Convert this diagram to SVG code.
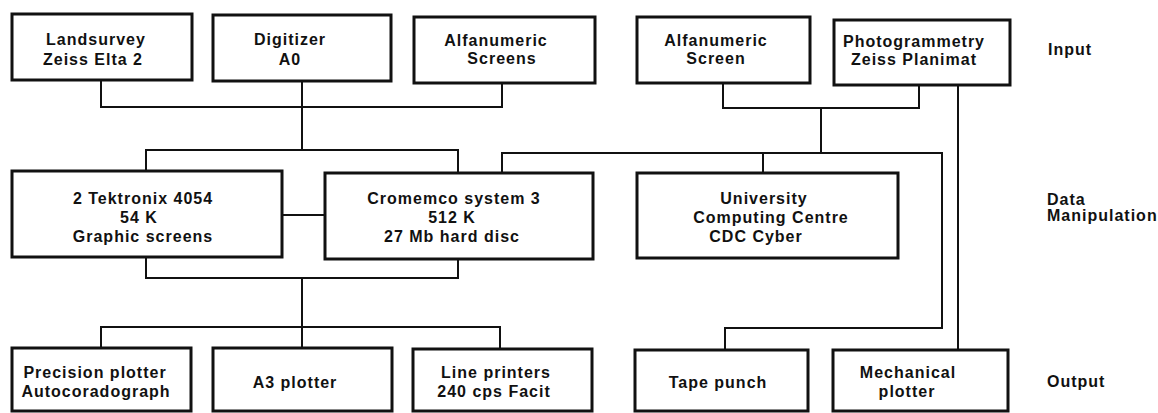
<svg xmlns="http://www.w3.org/2000/svg" width="1158" height="413" viewBox="0 0 1158 413">
<style>
.box{fill:#fff;stroke:#111;stroke-width:3}
.ln{fill:none;stroke:#111;stroke-width:2}
text{font-family:"Liberation Sans",Arial,sans-serif;font-weight:bold;font-size:16px;letter-spacing:1px;fill:#111}
.c{text-anchor:middle}
</style>
<rect width="1158" height="413" fill="#fff"/>
<g id="connectors">
<polyline class="ln" points="101,80 101,107 502,107 502,83"/>
<line class="ln" x1="302" y1="81" x2="302" y2="150"/>
<polyline class="ln" points="146,171 146,150 458,150 458,173"/>
<polyline class="ln" points="723,83 723,108 919,108 919,85"/>
<line class="ln" x1="821" y1="108" x2="821" y2="153"/>
<polyline class="ln" points="502,173 502,153 942,153 942,328 725,328 725,350"/>
<line class="ln" x1="763" y1="153" x2="763" y2="173"/>
<line class="ln" x1="958" y1="85" x2="958" y2="350"/>
<line class="ln" x1="282" y1="215" x2="325" y2="215"/>
<polyline class="ln" points="146,257 146,278 458,278 458,259"/>
<line class="ln" x1="302" y1="278" x2="302" y2="348"/>
<polyline class="ln" points="101,348 101,327 500,327 500,348"/>
</g>
<g id="n-landsurvey"><rect class="box" x="12" y="14" width="180" height="66"/><text class="c" x="96" y="45">Landsurvey</text><text class="c" x="93" y="65">Zeiss Elta 2</text></g>
<g id="n-digitizer"><rect class="box" x="213" y="15" width="178" height="66"/><text class="c" x="290" y="45">Digitizer</text><text class="c" x="290" y="65">A0</text></g>
<g id="n-alfa1"><rect class="box" x="414" y="17" width="181" height="66"/><text class="c" x="496" y="46">Alfanumeric</text><text class="c" x="502" y="64">Screens</text></g>
<g id="n-alfa2"><rect class="box" x="637" y="17" width="173" height="66"/><text class="c" x="716" y="46">Alfanumeric</text><text class="c" x="716" y="64">Screen</text></g>
<g id="n-photo"><rect class="box" x="834" y="20" width="176" height="65"/><text class="c" x="914" y="47">Photogrammetry</text><text class="c" x="914" y="65">Zeiss Planimat</text></g>
<g id="n-tek"><rect class="box" x="12" y="171" width="270" height="86"/><text class="c" x="143" y="204">2 Tektronix 4054</text><text class="c" x="139" y="223">54 K</text><text class="c" x="143" y="242">Graphic screens</text></g>
<g id="n-cromemco"><rect class="box" x="325" y="173" width="268" height="86"/><text class="c" x="454" y="204">Cromemco system 3</text><text class="c" x="452" y="223">512 K</text><text class="c" x="452" y="242">27 Mb hard disc</text></g>
<g id="n-university"><rect class="box" x="637" y="173" width="261" height="85"/><text class="c" x="764" y="204">University</text><text class="c" x="771" y="223">Computing Centre</text><text class="c" x="756" y="242">CDC Cyber</text></g>
<g id="n-precision"><rect class="box" x="12" y="348" width="179" height="63"/><text class="c" x="95" y="378">Precision plotter</text><text class="c" x="96" y="397">Autocoradograph</text></g>
<g id="n-a3"><rect class="box" x="213" y="348" width="179" height="63"/><text class="c" x="295" y="388">A3 plotter</text></g>
<g id="n-line"><rect class="box" x="413" y="349" width="179" height="62"/><text class="c" x="496" y="378">Line printers</text><text class="c" x="494" y="397">240 cps Facit</text></g>
<g id="n-tape"><rect class="box" x="635" y="350" width="173" height="61"/><text class="c" x="718" y="388">Tape punch</text></g>
<g id="n-mech"><rect class="box" x="833" y="350" width="175" height="61"/><text class="c" x="908" y="378">Mechanical</text><text class="c" x="907" y="397">plotter</text></g>
<g id="labels">
<text x="1048" y="55">Input</text>
<text x="1047" y="205">Data</text>
<text x="1047" y="221">Manipulation</text>
<text x="1047" y="387">Output</text>
</g>
</svg>
